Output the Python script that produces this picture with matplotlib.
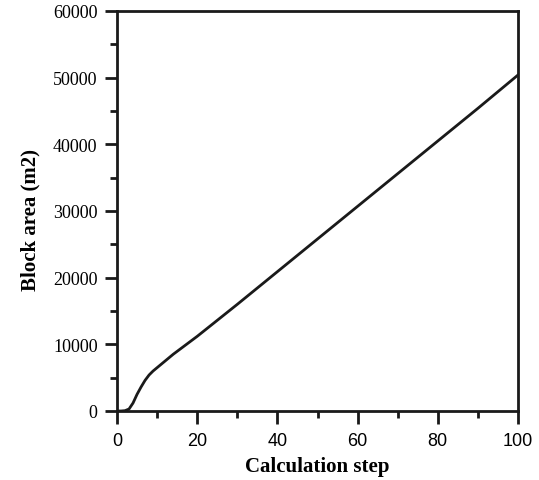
import matplotlib.pyplot as plt
from matplotlib.ticker import MultipleLocator

# values
steps = [0, 1, 2, 3, 4, 5, 6, 7, 8, 9, 10, 12, 14, 16, 18, 20,
         30, 40, 50, 60, 70, 80, 90, 100]
area = [0, 0, 50, 300, 1200, 2500, 3600, 4600, 5400, 6000, 6500, 7500,
        8500, 9400, 10300, 11200, 16000, 20900, 25800, 30700, 35600,
        40500, 45400, 50400]

x_ticks = [0, 20, 40, 60, 80, 100]
y_ticks = [0, 10000, 20000, 30000, 40000, 50000, 60000]

fig = plt.figure(figsize=(5.39, 4.81), dpi=100)
ax = fig.add_axes([117 / 539, 1 - 412 / 481, 401 / 539, 400 / 481])

ax.plot(steps, area, color='#1a1a1a', lw=2.0)

ax.set_xlim(0, 100)
ax.set_ylim(0, 60000)
ax.set_xticks(x_ticks)
ax.set_yticks(y_ticks)
ax.xaxis.set_minor_locator(MultipleLocator(10))
ax.yaxis.set_minor_locator(MultipleLocator(5000))

for s in ax.spines.values():
    s.set_linewidth(2.0)
    s.set_color('#1a1a1a')

ax.tick_params(which='both', direction='out', width=2.0, color='#1a1a1a',
               top=False, right=False)
ax.tick_params(which='major', length=9)
ax.tick_params(which='minor', length=5)
ax.tick_params(axis='x', which='major', pad=6)
ax.tick_params(axis='y', which='major', pad=5)

for lab in ax.get_xticklabels():
    lab.set_fontfamily('Liberation Sans')
    lab.set_fontsize(13)
for lab in ax.get_yticklabels():
    lab.set_fontfamily('Liberation Serif')
    lab.set_fontsize(13)

ax.set_xlabel('Calculation step', fontfamily='Liberation Serif',
              fontweight='bold', fontsize=15, labelpad=5)
ax.set_ylabel('Block area (m2)', fontfamily='Liberation Serif',
              fontweight='bold', fontsize=15)
ax.yaxis.set_label_coords(-0.192, 0.48)

fig.savefig('out.png', dpi=100)
